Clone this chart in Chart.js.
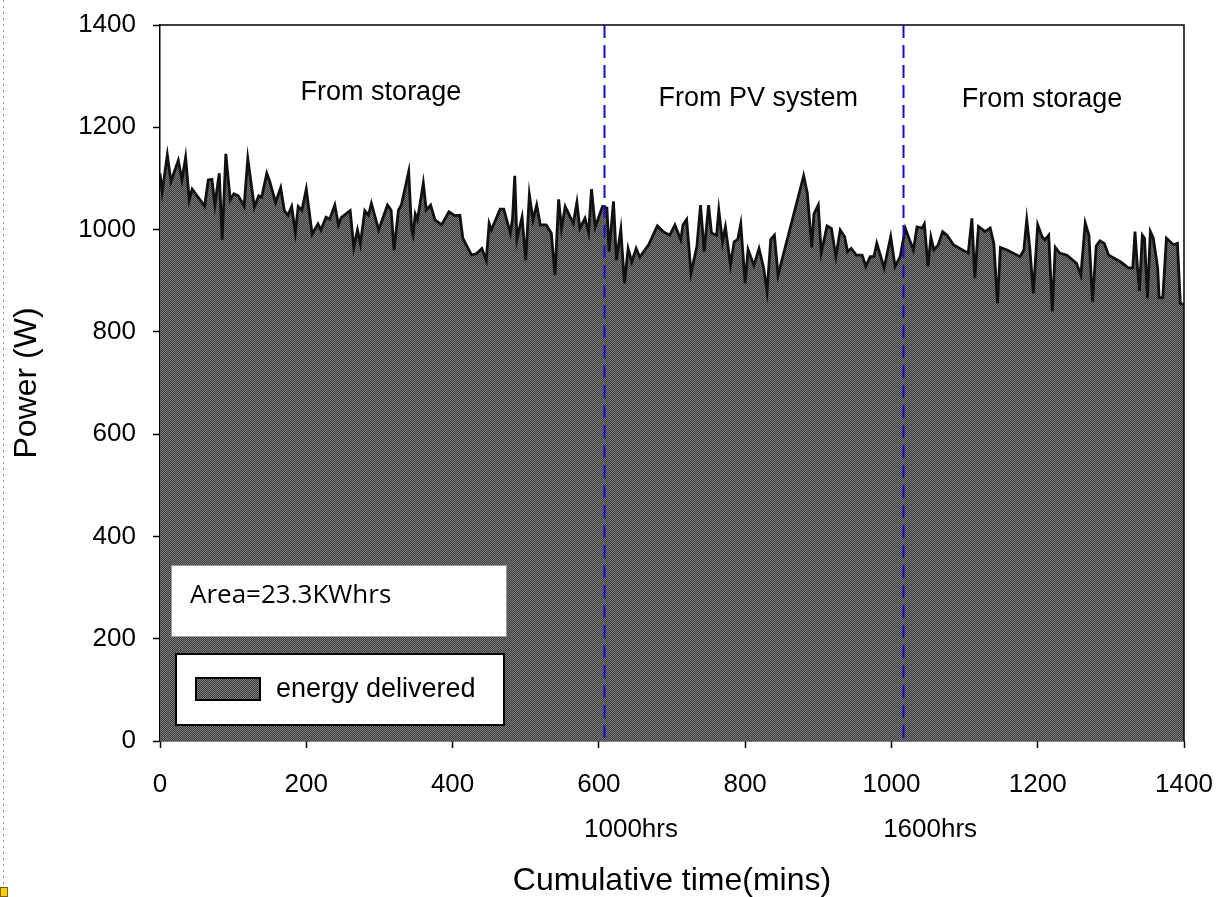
<!DOCTYPE html>
<html>
<head>
<meta charset="utf-8">
<title>Power delivered</title>
<script src="https://cdn.jsdelivr.net/npm/chart.js@4.4.1/dist/chart.umd.min.js"></script>
<style>
    html, body { margin: 0; padding: 0; background: #ffffff; }
    #wrap { width: 1216px; height: 897px; }
</style>
</head>
<body>
<div id="wrap"><canvas id="powerChart" width="1216" height="897"></canvas></div>
<script>
// Load profile: cumulative minutes vs delivered power
const timeMins = [
    0, 3, 10, 15, 25, 30, 35, 40, 44, 61, 66, 71, 75, 81, 85, 90, 96, 101, 107, 115,
    120, 129, 135, 139, 146, 150, 158, 165, 170, 175, 180, 185, 189, 194, 200, 208, 216, 220, 227, 232,
    239, 244, 248, 260, 265, 270, 274, 280, 285, 289, 299, 311, 316, 320, 326, 330, 340, 344, 346, 349,
    352, 360, 364, 370, 376, 385, 395, 403, 410, 414, 426, 433, 440, 446, 450, 453, 465, 470, 479, 482,
    485, 488, 495, 500, 505, 510, 515, 520, 528, 535, 540, 545, 549, 554, 565, 570, 574, 581, 586, 590,
    595, 605, 611, 614, 620, 624, 630, 635, 640, 645, 651, 656, 668, 680, 688, 697, 704, 712, 715, 720,
    726, 734, 739, 744, 750, 754, 761, 764, 769, 773, 780, 785, 790, 794, 800, 804, 812, 819, 825, 830,
    835, 840, 845, 880, 885, 891, 894, 900, 904, 912, 918, 924, 930, 936, 940, 945, 952, 960, 965, 971,
    976, 980, 990, 999, 1005, 1012, 1019, 1030, 1035, 1042, 1045, 1050, 1054, 1058, 1064, 1070, 1076, 1085, 1105, 1110,
    1114, 1119, 1128, 1135, 1140, 1145, 1149, 1158, 1176, 1181, 1185, 1189, 1194, 1200, 1206, 1210, 1215, 1220, 1224, 1230,
    1240, 1253, 1259, 1265, 1270, 1275, 1280, 1285, 1291, 1297, 1313, 1324, 1330, 1333, 1336, 1339, 1341, 1343, 1346, 1350,
    1354, 1358, 1364, 1366, 1371, 1376, 1386, 1391, 1395, 1400
];
const powerW = [
    1110, 1074, 1146, 1094, 1135, 1097, 1141, 1058, 1079, 1046, 1097, 1098, 1048, 1110, 980, 1148, 1058, 1070, 1066, 1046,
    1139, 1044, 1066, 1063, 1110, 1094, 1053, 1082, 1037, 1028, 1045, 994, 1045, 1038, 1079, 991, 1011, 999, 1024, 1020,
    1048, 1009, 1024, 1037, 965, 999, 972, 1037, 1028, 1051, 999, 1048, 1038, 960, 1038, 1048, 1113, 1000, 989, 1030,
    1019, 1091, 1038, 1048, 1019, 1009, 1035, 1027, 1028, 983, 950, 953, 963, 940, 1012, 999, 1040, 1040, 993, 1022,
    1105, 981, 1024, 940, 1068, 1019, 1048, 1009, 1009, 993, 911, 1059, 1002, 1045, 1012, 1053, 1002, 1022, 994, 1079,
    1005, 1045, 1042, 957, 1055, 940, 1000, 895, 963, 937, 963, 946, 970, 1007, 996, 989, 1009, 980, 1009, 1020,
    915, 967, 1048, 957, 1048, 993, 989, 1038, 976, 1005, 931, 976, 981, 1011, 895, 961, 930, 963, 927, 879,
    981, 989, 911, 1105, 1071, 965, 1030, 1048, 954, 1007, 1002, 947, 999, 986, 957, 963, 950, 950, 928, 947,
    947, 973, 925, 986, 928, 947, 1002, 960, 1005, 1003, 1011, 928, 985, 960, 970, 996, 989, 970, 954, 1022,
    905, 1006, 996, 1003, 973, 856, 965, 960, 947, 960, 1019, 967, 875, 1009, 986, 980, 989, 840, 965, 954,
    950, 934, 911, 1013, 989, 859, 968, 978, 973, 950, 937, 925, 925, 996, 934, 880, 934, 989, 983, 866,
    996, 983, 925, 867, 867, 983, 970, 973, 856, 853
];

const xTickStep = 200;
const yTickStep = 200;
const markerTimes = [607, 1016];
const markerLabels = ['1000hrs', '1600hrs'];
const regionLabels = ['From storage', 'From PV system', 'From storage'];
const regionTimes = [302, 818, 1206];
const regionPower = [1267, 1257, 1255];
const areaNote = 'Area=23.3KWhrs';
const seriesLabel = 'energy delivered';

const FONT = '"Liberation Sans", Arial, sans-serif';

// fine checker fill, reads as mid grey from a distance
function makeChecker() {
    const c = document.createElement('canvas');
    c.width = 2;
    c.height = 2;
    const g = c.getContext('2d');
    g.fillStyle = '#3c3c3c';
    g.fillRect(0, 0, 2, 2);
    g.fillStyle = '#7c7c7c';
    g.fillRect(0, 0, 1, 1);
    g.fillRect(1, 1, 1, 1);
    return g.createPattern(c, 'repeat');
}
const checker = makeChecker();

// frame, markers, region notes and the two boxes
const overlayPlugin = {
    id: 'overlay',
    afterDatasetsDraw(chart) {
        const ctx = chart.ctx;
        const area = chart.chartArea;
        const xs = chart.scales.x;
        const ys = chart.scales.y;

        ctx.save();
        // top + right frame
        ctx.strokeStyle = '#000';
        ctx.lineWidth = 1.5;
        ctx.beginPath();
        ctx.moveTo(area.left, area.top);
        ctx.lineTo(area.right, area.top);
        ctx.lineTo(area.right, area.bottom);
        ctx.stroke();

        // dashed time markers
        ctx.strokeStyle = '#1010c8';
        ctx.lineWidth = 2;
        ctx.setLineDash([13, 7]);
        markerTimes.forEach(t => {
            const px = Math.round(xs.getPixelForValue(t)) + 0.5;
            ctx.beginPath();
            ctx.moveTo(px, area.top);
            ctx.lineTo(px, area.bottom);
            ctx.stroke();
        });
        ctx.setLineDash([]);

        // hour labels under the axis
        ctx.fillStyle = '#000';
        ctx.font = '26px ' + FONT;
        ctx.textAlign = 'center';
        ctx.textBaseline = 'middle';
        markerLabels.forEach((lbl, i) => {
            ctx.fillText(lbl, xs.getPixelForValue(markerTimes[i]) + 27, area.bottom + 89);
        });

        // region notes
        ctx.font = '27px ' + FONT;
        regionLabels.forEach((lbl, i) => {
            ctx.fillText(lbl, xs.getPixelForValue(regionTimes[i]), ys.getPixelForValue(regionPower[i]));
        });

        // area note box
        const bx = area.left + 11, by = area.bottom - 176;
        ctx.fillStyle = '#fff';
        ctx.fillRect(bx, by, 336, 72);
        ctx.strokeStyle = '#9a9a9a';
        ctx.lineWidth = 1;
        ctx.strokeRect(bx + 0.5, by + 0.5, 335, 71);
        ctx.fillStyle = '#000';
        ctx.font = '26px "Open Sans", "Noto Sans", sans-serif';
        ctx.textAlign = 'left';
        ctx.textBaseline = 'alphabetic';
        ctx.fillText(areaNote, bx + 19, by + 38);

        // legend box
        const lx = area.left + 16, ly = area.bottom - 87;
        ctx.fillStyle = '#fff';
        ctx.fillRect(lx, ly, 328, 71);
        ctx.strokeStyle = '#000';
        ctx.lineWidth = 2;
        ctx.strokeRect(lx, ly, 328, 71);
        ctx.fillStyle = checker;
        ctx.fillRect(lx + 20, ly + 24, 64, 22);
        ctx.strokeRect(lx + 20, ly + 24, 64, 22);
        ctx.fillStyle = '#000';
        ctx.font = '27px ' + FONT;
        ctx.textBaseline = 'middle';
        ctx.fillText(seriesLabel, lx + 100, ly + 36);
        ctx.restore();
    },
    afterDraw(chart) {
        // page margin guide on the far left
        const ctx = chart.ctx;
        ctx.save();
        ctx.strokeStyle = '#8090a8';
        ctx.lineWidth = 1;
        ctx.setLineDash([2, 4]);
        ctx.beginPath();
        ctx.moveTo(3.5, 0);
        ctx.lineTo(3.5, 884);
        ctx.stroke();
        ctx.setLineDash([]);
        ctx.fillStyle = '#f2d200';
        ctx.fillRect(0, 887, 8, 10);
        ctx.strokeStyle = '#806000';
        ctx.strokeRect(0.5, 887.5, 7, 9);
        ctx.restore();
    }
};

const points = timeMins.map((t, i) => ({ x: t, y: powerW[i] }));
const plainTick = v => String(v);

new Chart(document.getElementById('powerChart'), {
    type: 'line',
    data: {
        datasets: [{
            label: seriesLabel,
            data: points,
            borderColor: '#111',
            borderWidth: 2.8,
            backgroundColor: checker,
            fill: 'origin',
            pointRadius: 0,
            tension: 0
        }]
    },
    options: {
        responsive: false,
        animation: false,
        layout: {
            padding: { top: 25, right: 32, left: 0, bottom: 0 }
        },
        plugins: {
            legend: { display: false },
            tooltip: { enabled: false }
        },
        scales: {
            x: {
                type: 'linear',
                min: 0,
                max: 1400,
                afterFit: s => {
                    s.height = 156;
                    s.paddingLeft = 0;
                    s.paddingRight = 0;
                },
                ticks: {
                    stepSize: xTickStep,
                    color: '#000',
                    font: { family: FONT, size: 26 },
                    padding: 21,
                    maxRotation: 0,
                    callback: plainTick
                },
                grid: { drawOnChartArea: false, drawTicks: true, tickLength: 7, color: '#000', tickWidth: 1.5 },
                border: { color: '#000', width: 1.5 },
                title: {
                    display: true,
                    text: 'Cumulative time(mins)',
                    color: '#000',
                    font: { family: FONT, size: 32, lineHeight: 1.0 },
                    padding: { top: 0, bottom: 0 }
                }
            },
            y: {
                min: 0,
                max: 1400,
                afterFit: s => {
                    s.width = 160;
                    s.paddingTop = 0;
                    s.paddingBottom = 0;
                },
                ticks: {
                    stepSize: yTickStep,
                    color: '#000',
                    font: { family: FONT, size: 26 },
                    padding: 17,
                    callback: plainTick
                },
                grid: { drawOnChartArea: false, drawTicks: true, tickLength: 7, color: '#000', tickWidth: 1.5 },
                border: { color: '#000', width: 1.5 },
                title: {
                    display: true,
                    text: 'Power (W)',
                    color: '#000',
                    font: { family: FONT, size: 32 },
                    padding: { top: 8, bottom: 0 }
                }
            }
        }
    },
    plugins: [overlayPlugin]
});
</script>
</body>
</html>
